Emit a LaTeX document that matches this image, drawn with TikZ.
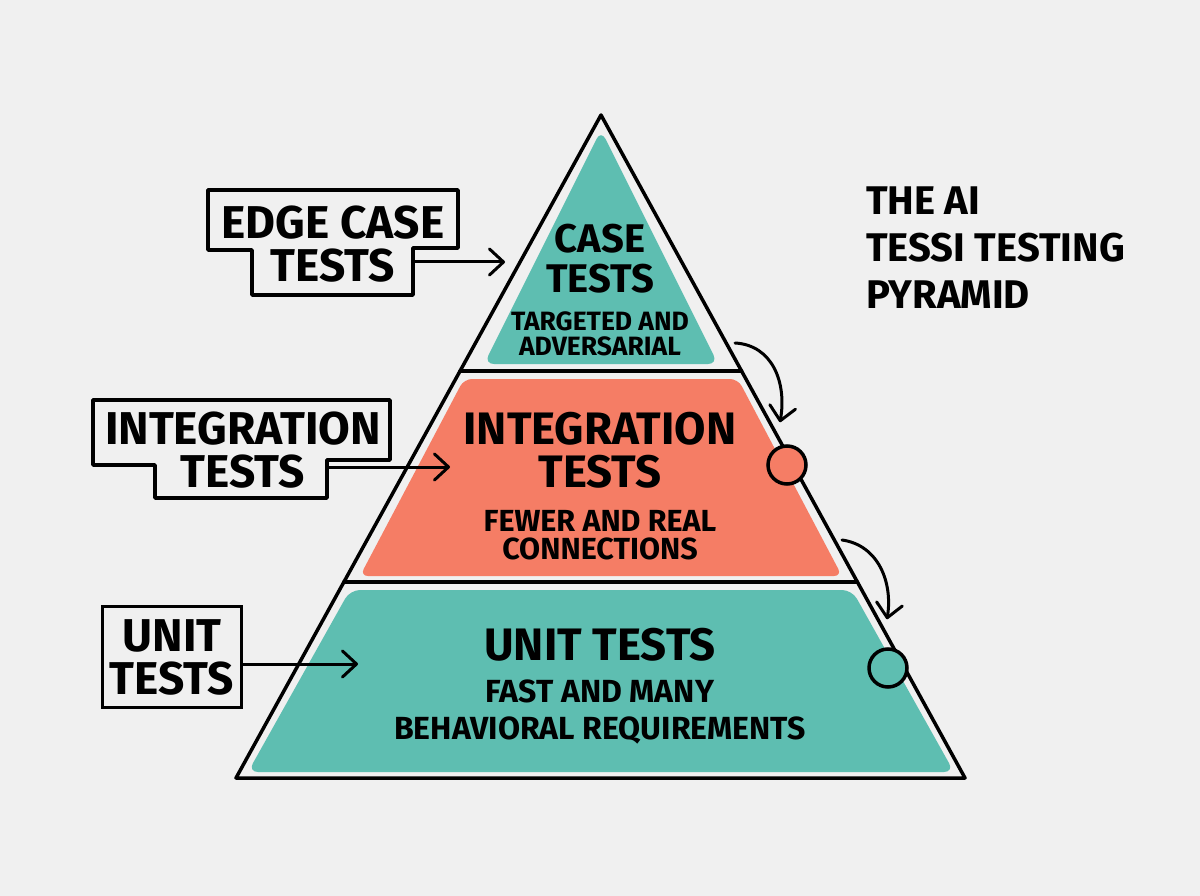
\documentclass[tikz,border=0pt]{standalone}
\usepackage{fontspec}
\setmainfont{Fira Sans}
\usetikzlibrary{arrows.meta,calc}
\definecolor{paper}{RGB}{240,240,240}
\definecolor{pyrteal}{RGB}{94,190,177}
\definecolor{pyrcoral}{RGB}{245,125,101}
\begin{document}
\begin{tikzpicture}[x=1pt, y=-1pt,
    outline/.style={line width=3.5pt, line join=round, line cap=round},
    tag/.style={font=\bfseries\fontsize{46}{43}\selectfont, align=center, inner sep=0pt},
    bighead/.style={font=\bfseries\fontsize{45.5}{42.5}\selectfont, align=center, inner sep=0pt},
    smallhead/.style={font=\bfseries\fontsize{40}{40}\selectfont, align=center, inner sep=0pt},
    sub/.style={font=\bfseries\fontsize{30.5}{28.5}\selectfont, align=center, inner sep=0pt},
    smallsub/.style={font=\bfseries\fontsize{26.5}{25}\selectfont, align=center, inner sep=0pt},
    pointer/.style={line width=3pt, line cap=round, -{Straight Barb[length=14pt, width=26pt, line cap=round, line join=round]}},
    knob/.style={circle, draw, line width=3.5pt, minimum size=38pt, inner sep=0pt}
  ]
  \fill[paper] (0,0) rectangle (1200,896);
  \useasboundingbox (0,0) rectangle (1200,896);

  \coordinate (apex) at (601,115);
  \coordinate (bl) at (236,778);
  \coordinate (br) at (965,778);

  \fill[pyrteal, rounded corners=10pt] (601,130) -- (718,364) -- (484,364) -- cycle;
  \fill[pyrcoral, rounded corners=8pt] (464,379) -- (738,379) -- (842,576) -- (360,576) -- cycle;
  \fill[pyrteal, rounded corners=10pt] (350,590) -- (852,590) -- (954,772) -- (248,772) -- cycle;

  \draw[outline] (apex) -- (br) -- (bl) -- cycle;
  \draw[outline] ($(apex)!0.386!(bl)$) -- ($(apex)!0.386!(br)$);
  \draw[outline] ($(apex)!0.704!(bl)$) -- ($(apex)!0.704!(br)$);

  \node[smallhead] (casehead) at (600,259) {CASE\\TESTS};
  \node[smallsub] (casesub) at (600,334) {TARGETED AND\\ADVERSARIAL};
  \node[bighead] (inthead) at (600,450) {INTEGRATION\\TESTS};
  \node[sub] (intsub) at (600,535) {FEWER AND REAL\\CONNECTIONS};
  \node[bighead] (unithead) at (600,645) {UNIT TESTS};
  \node[sub, font=\bfseries\fontsize{32}{37}\selectfont] (unitsub) at (600,712) {FAST AND MANY\\BEHAVIORAL REQUIREMENTS};

  \node[tag] (edgetag) at (333,244) {EDGE CASE\\TESTS};
  \draw[outline] (208,190) -- (458,190) -- (458,248) -- (413,248) -- (413,295)
    -- (252,295) -- (252,250) -- (208,250) -- cycle;
  \node[tag] (inttag) at (243,450) {INTEGRATION\\TESTS};
  \draw[outline] (93,400) -- (390,400) -- (390,460) -- (327,460) -- (327,498)
    -- (155,498) -- (155,465) -- (93,465) -- cycle;
  \node[tag, draw, line width=3.5pt, minimum width=139pt, minimum height=101pt] (unittag) at (172,657) {UNIT\\TESTS};

  \coordinate (edgeout) at (413,262);
  \coordinate (edgein) at (505,262);
  \coordinate (intout) at (327,467);
  \coordinate (intin) at (450,467);
  \coordinate (unitin) at (358,664);
  \draw[pointer] (edgeout) -- (edgein);
  \draw[pointer] (intout) -- (intin);
  \draw[pointer] (unittag.east |- unitin) -- (unitin);

  \node[knob, fill=pyrcoral] (intknob) at (787,465) {};
  \node[knob, fill=pyrteal] (unitknob) at (888,668) {};
  \coordinate (caseturn) at (735,343);
  \coordinate (intturn) at (842,540);
  \draw[pointer] (caseturn) .. controls (772,345) and (787,382) .. ($(intknob.north)+(-7,-22)$);
  \draw[pointer] (intturn) .. controls (878,545) and (893,582) .. ($(unitknob.north)+(-1,-28)$);

  \node[font=\bfseries\fontsize{40}{47}\selectfont, align=left, anchor=west, inner sep=0pt] (title) at (866,248) {THE AI\\TESSI TESTING\\PYRAMID};
\end{tikzpicture}
\end{document}
